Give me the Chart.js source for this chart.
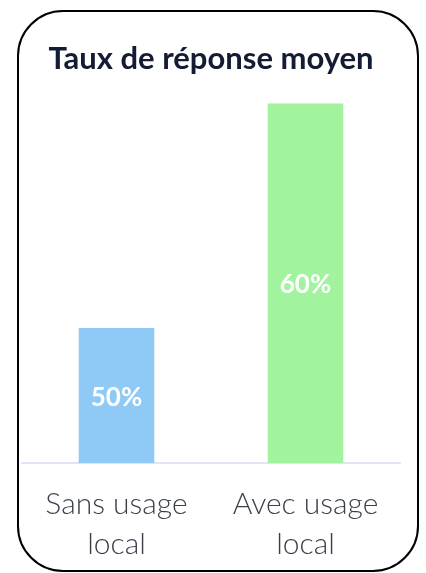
<!DOCTYPE html>
<html>
<head>
<meta charset="utf-8">
<script src="https://cdn.jsdelivr.net/npm/chart.js@4"></script>
<style>
  html, body { margin: 0; padding: 0; background: #fff; }
  #wrap { position: relative; width: 426px; height: 573px; }
  #frame {
    position: absolute; left: 17px; top: 10px; width: 402px; height: 562px;
    box-sizing: border-box; border: 2px solid #000; border-radius: 46px;
  }
  #chart { position: absolute; left: 0; top: 0; }
</style>
</head>
<body>
<div id="wrap">
  <div id="frame"></div>
  <canvas id="chart" width="426" height="573"></canvas>
</div>
<script>
const categories = [['Sans usage', 'local'], ['Avec usage', 'local']];
const values = [50, 60];
const barColors = ['#8fc9f5', '#a1f39e'];

// writes the value in the middle of each bar
const barLabels = {
    id: 'barLabels',
    afterDraw(chart) {
        const ctx = chart.ctx;
        const yScale = chart.scales.y;
        const meta = chart.getDatasetMeta(0);
        ctx.save();
        ctx.fillStyle = '#ffffff';
        ctx.font = 'bold 26px Lato';
        ctx.textAlign = 'center';
        ctx.textBaseline = 'middle';
        meta.data.forEach((bar, i) => {
            const top = yScale.getPixelForValue(values[i]);
            const bottom = yScale.bottom;
            ctx.fillText(values[i] + '%', bar.x, (top + bottom) / 2 + 2);
        });
        ctx.restore();
    }
};

new Chart(document.querySelector('#chart').getContext('2d'), {
    type: 'bar',
    data: {
        labels: categories,
        datasets: [{
            data: values,
            backgroundColor: barColors,
            barPercentage: 0.4,
            categoryPercentage: 1
        }]
    },
    options: {
        responsive: false,
        animation: false,
        layout: { padding: { left: 22, right: 26, top: 40, bottom: -13 } },
        plugins: {
            legend: { display: false },
            tooltip: { enabled: false },
            title: {
                display: true,
                text: 'Taux de réponse moyen',
                color: '#141c33',
                font: { family: 'Lato', size: 31, weight: 'bold', lineHeight: 1.2 },
                padding: { top: 0, bottom: 26 }
            }
        },
        scales: {
            y: {
                display: false,
                min: 44,
                max: 60
            },
            x: {
                grid: { display: false, drawTicks: false },
                border: { display: true, color: '#dfe4f7', width: 2 },
                ticks: {
                    color: '#3a3f4b',
                    padding: 21,
                    font: { family: 'Lato', size: 30, weight: 300, lineHeight: 1.35 }
                }
            }
        }
    },
    plugins: [barLabels]
});
</script>
</body>
</html>
